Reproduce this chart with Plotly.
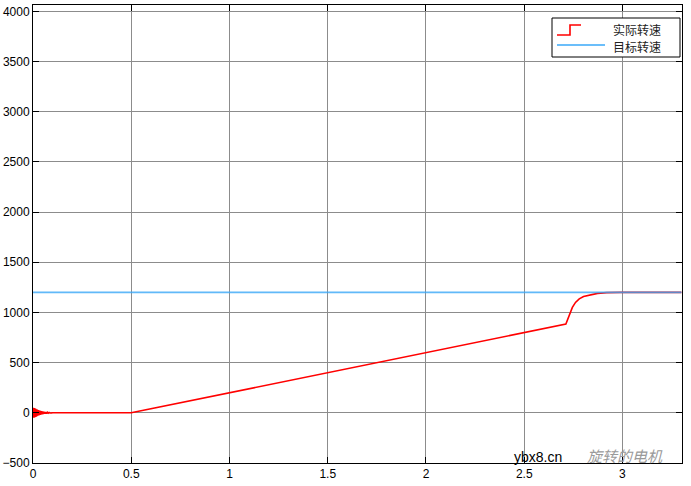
import plotly.graph_objects as go

# ---- data ----
actual_t = [0.000, 0.002, 0.004, 0.006, 0.008, 0.010, 0.012, 0.014, 0.016, 0.018,
            0.020, 0.022, 0.024, 0.026, 0.028, 0.030, 0.032, 0.034, 0.036, 0.038,
            0.040, 0.043, 0.046, 0.049, 0.052, 0.055, 0.058, 0.061, 0.064, 0.067,
            0.070, 0.074, 0.078, 0.082, 0.086, 0.090, 0.095, 0.100,
            0.500, 2.712, 2.722, 2.732, 2.745, 2.761, 2.780, 2.802, 2.840, 2.873,
            2.920, 2.990, 3.300]
actual_v = [0, 50, -50, 47, -46, 44, -42, 40, -38, 36,
            -34, 32, -30, 28, -26, 25, -23, 22, -20, 19,
            -18, 16, -15, 14, -12, 11, -10, 9, -8, 7,
            -6, 5, -4, 3, -2, 2, -1, 0,
            0, 884, 940, 995, 1050, 1100, 1135, 1158, 1178, 1190,
            1197, 1200, 1200]
target_t = [0.0, 3.3]
target_v = [1200, 1200]

x_ticks = [0, 0.5, 1, 1.5, 2, 2.5, 3]
x_labels = ["0", "0.5", "1", "1.5", "2", "2.5", "3"]
y_ticks = [-500, 0, 500, 1000, 1500, 2000, 2500, 3000, 3500, 4000]
legend_names = ["实际转速", "目标转速"]

RED = "#ff0000"
BLUE = "#3aa8f8"
CJK = "Noto Sans CJK SC"

fig = go.Figure()
fig.add_trace(go.Scatter(x=actual_t, y=actual_v, mode="lines",
                         line=dict(color=RED, width=1.6), name=legend_names[0],
                         showlegend=False))
fig.add_trace(go.Scatter(x=target_t, y=target_v, mode="lines",
                         line=dict(color=BLUE, width=1.6), opacity=0.8,
                         name=legend_names[1], showlegend=False))

axis_common = dict(showgrid=True, gridcolor="#8c8c8c", gridwidth=1,
                   showline=True, linecolor="black", linewidth=1, mirror="ticks",
                   ticks="inside", ticklen=6, tickcolor="black", zeroline=False,
                   automargin=False,
                   tickfont=dict(family="Liberation Sans, Arial", size=12, color="black"))

fig.update_xaxes(range=[0, 3.303], tickvals=x_ticks, ticktext=x_labels, **axis_common)
fig.update_yaxes(range=[-500, 4063], tickvals=y_ticks, **axis_common)

# custom legend (box, icons, labels) in pixel-derived paper coordinates
W, H = 691, 486
L, R, T, B = 33, 9, 5, 23
pw, ph = W - L - R, H - T - B


def px(x):
    return (x - L) / pw


def py(y):
    return (H - B - y) / ph


shapes = [
    dict(type="rect", xref="paper", yref="paper", x0=px(552), x1=px(680), y0=py(57), y1=py(18),
         line=dict(color="black", width=1), fillcolor="white"),
    dict(type="path", xref="paper", yref="paper",
         path=f"M {px(557)},{py(35)} L {px(570)},{py(35)} L {px(570)},{py(25)} L {px(581)},{py(25)}",
         line=dict(color=RED, width=1.6)),
    dict(type="line", xref="paper", yref="paper", x0=px(557), x1=px(605), y0=py(45), y1=py(45),
         line=dict(color=BLUE, width=1.6)),
]
annotations = [
    dict(xref="paper", yref="paper", x=px(663), y=py(29), text=legend_names[0], showarrow=False,
         xanchor="right", yanchor="middle", font=dict(family=CJK, size=12, color="#222")),
    dict(xref="paper", yref="paper", x=px(663), y=py(47), text=legend_names[1], showarrow=False,
         xanchor="right", yanchor="middle", font=dict(family=CJK, size=12, color="#222")),
    dict(xref="paper", yref="paper", x=px(512), y=py(457), text="ybx8.cn", showarrow=False,
         xanchor="left", yanchor="middle", font=dict(family="Liberation Sans, Arial", size=14, color="black")),
    dict(xref="paper", yref="paper", x=px(585), y=py(455), text="<i>旋转的电机</i>", showarrow=False,
         xanchor="left", yanchor="middle", font=dict(family=CJK, size=15, color="#9a9a9a")),
]

fig.update_layout(width=W, height=H, margin=dict(l=L, r=R, t=T, b=B, autoexpand=False),
                  paper_bgcolor="white", plot_bgcolor="white",
                  shapes=shapes, annotations=annotations, showlegend=False)

fig.write_html("out.html", config={"displayModeBar": False},
               post_script="document.body.style.margin='0';document.body.style.overflow='hidden';")
